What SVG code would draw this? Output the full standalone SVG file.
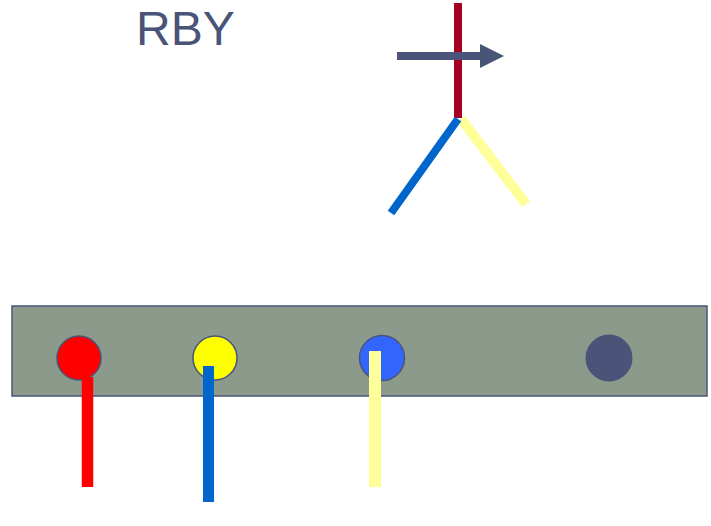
<svg xmlns="http://www.w3.org/2000/svg" width="711" height="526" viewBox="0 0 711 526">
<style>
.pin{stroke:#4A5479;stroke-width:1.5}
</style>
<defs>
<marker id="ah" markerWidth="3" markerHeight="3" refX="0" refY="1.5" orient="auto" markerUnits="strokeWidth">
<path d="M0,0 L3,1.5 L0,3 Z" fill="#4A5479"/>
</marker>
</defs>
<rect width="711" height="526" fill="#fff"/>
<g id="title"><text x="136" y="45" font-family="Liberation Sans, Arial, sans-serif" font-size="48" fill="#4A5479">RBY</text></g>
<g id="board">
<rect x="12" y="306" width="695" height="90" fill="#8C9A8C" stroke="#4A5479" stroke-width="1.5"/>
</g>
<g id="pin-red"><circle cx="79" cy="358" r="22" fill="#FF0000" class="pin"/></g>
<g id="pin-yellow"><circle cx="215" cy="358" r="22" fill="#FFFF00" class="pin"/></g>
<g id="pin-blue"><circle cx="382" cy="358" r="22.5" fill="#3366FF" class="pin"/></g>
<g id="pin-dark"><circle cx="609" cy="358" r="23.5" fill="#4A5479"/></g>
<g id="connectors">
<line x1="87.5" y1="377" x2="87.5" y2="487" stroke="#FF0000" stroke-width="11.5"/>
<line x1="208.5" y1="366" x2="208.5" y2="502" stroke="#0066CC" stroke-width="11"/>
<line x1="375" y1="351" x2="375" y2="487" stroke="#FFFF99" stroke-width="12"/>
<line x1="458" y1="3" x2="458" y2="118" stroke="#A50021" stroke-width="8"/>
<line x1="461" y1="119" x2="526" y2="204" stroke="#FFFF99" stroke-width="10"/>
<line x1="458" y1="119" x2="391" y2="213" stroke="#0066CC" stroke-width="8"/>
<line x1="397" y1="56" x2="480" y2="56" stroke="#4A5479" stroke-width="8" marker-end="url(#ah)"/>
</g>
</svg>
